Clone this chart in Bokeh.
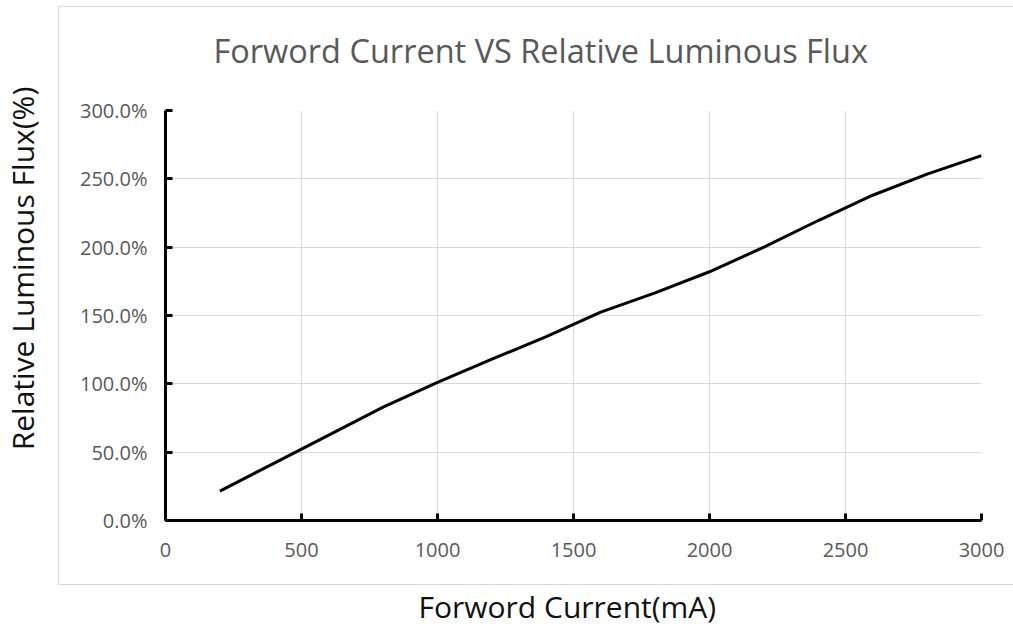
import math
from bokeh.plotting import figure
from bokeh.models import (Range1d, FixedTicker, CustomJSTickFormatter, Label,
                          InlineStyleSheet, Row, Column)
from bokeh.embed import file_html
from bokeh.resources import INLINE

current_ma = [200, 400, 600, 800, 1000, 1200, 1400, 1600, 1800, 2000, 2200, 2400, 2600, 2800, 3000]
rel_flux_pct = [21.5, 42, 62.5, 83, 101, 118, 134.5, 152.5, 166.5, 182, 200, 219.5, 238, 253.5, 267]
x_ticks = [0, 500, 1000, 1500, 2000, 2500, 3000]
y_ticks = [0, 50, 100, 150, 200, 250, 300]

title_text = "Forword Current VS Relative Luminous Flux"
x_label = "Forword Current(mA)"
y_label = "Relative Luminous Flux(%)"

FONT = "Open Sans"
TOTAL_W, TOTAL_H = 1005, 628
LEFT_W = 50          # strip with the vertical axis title
TOP_H = 90           # strip with the chart title
BOTTOM_Y = 575       # page y where the strip with the x axis title starts
FRAME_L, FRAME_R, FRAME_T, FRAME_B = 165, 981, 110, 520
MAIN_W = TOTAL_W - LEFT_W
MAIN_H = BOTTOM_Y - TOP_H


def blank_fig(w, h, xr, yr):
    f = figure(width=w, height=h, x_range=Range1d(*xr), y_range=Range1d(*yr),
               x_axis_type=None, y_axis_type=None, min_border=0,
               toolbar_location=None, output_backend="svg")
    f.outline_line_color = None
    f.background_fill_color = "white"
    f.border_fill_color = "white"
    return f


# vertical axis title strip (ranges = page pixels)
lfig = blank_fig(LEFT_W, TOTAL_H, (0, LEFT_W), (TOTAL_H, 0))
lfig.add_layout(Label(x=22, y=268, text=y_label, angle=math.pi / 2,
                      text_align="center", text_baseline="middle", text_font=FONT,
                      text_font_size="30px", text_color="#111111"))

# strips in the column get their frames aligned with the chart frame,
# so their x ranges span the frame's page pixels
tfig = blank_fig(MAIN_W, TOP_H, (FRAME_L, FRAME_R), (TOP_H, 0))
tfig.add_layout(Label(x=213, y=49.5, text=title_text,
                      text_align="left", text_baseline="middle", text_font=FONT,
                      text_font_size="32.5px", text_color="#595959"))

bfig = blank_fig(MAIN_W, TOTAL_H - BOTTOM_Y, (FRAME_L, FRAME_R), (TOTAL_H, BOTTOM_Y))
bfig.add_layout(Label(x=418, y=606, text=x_label,
                      text_align="left", text_baseline="middle", text_font=FONT,
                      text_font_size="30px", text_color="#111111"))

# main chart
p = figure(width=MAIN_W, height=MAIN_H, output_backend="svg", toolbar_location=None,
           x_range=Range1d(0, 3000), y_range=Range1d(0, 300),
           min_border_left=FRAME_L - LEFT_W, min_border_right=TOTAL_W - FRAME_R,
           min_border_top=FRAME_T - TOP_H, min_border_bottom=BOTTOM_Y - FRAME_B)
p.outline_line_color = None
p.background_fill_color = "white"
p.border_fill_color = "white"

for ax in (p.xaxis[0], p.yaxis[0]):
    ax.axis_line_color = "black"
    ax.axis_line_width = 3
    ax.major_tick_line_color = "black"
    ax.major_tick_line_width = 3
    ax.major_tick_in = 7
    ax.major_tick_out = 0
    ax.minor_tick_line_color = None
    ax.major_label_text_color = "#595959"
    ax.major_label_text_font = FONT
    ax.major_label_text_font_size = "20px"

p.xaxis.ticker = FixedTicker(ticks=x_ticks)
p.yaxis.ticker = FixedTicker(ticks=y_ticks)
p.yaxis.formatter = CustomJSTickFormatter(code="return tick.toFixed(1) + '%';")
p.xaxis.major_label_standoff = 22
p.yaxis.major_label_standoff = 18

p.xgrid.ticker = FixedTicker(ticks=x_ticks)
p.ygrid.ticker = FixedTicker(ticks=y_ticks)
p.grid.grid_line_color = "#d9d9d9"
p.grid.grid_line_width = 1

p.line(current_ma, rel_flux_pct, line_color="black", line_width=3)

css = (":host { position: relative; } "
       ":host::after { content: ''; position: absolute; left: 58px; top: 6px; "
       "width: 955px; height: 579px; border: 1px solid #d9d9d9; border-right: none; "
       "box-sizing: border-box; pointer-events: none; z-index: 10; }")

layout = Row(children=[lfig, Column(children=[tfig, p, bfig], spacing=0)], spacing=0,
             stylesheets=[InlineStyleSheet(css=css)])

open("out.html", "w").write(file_html(layout, INLINE))
